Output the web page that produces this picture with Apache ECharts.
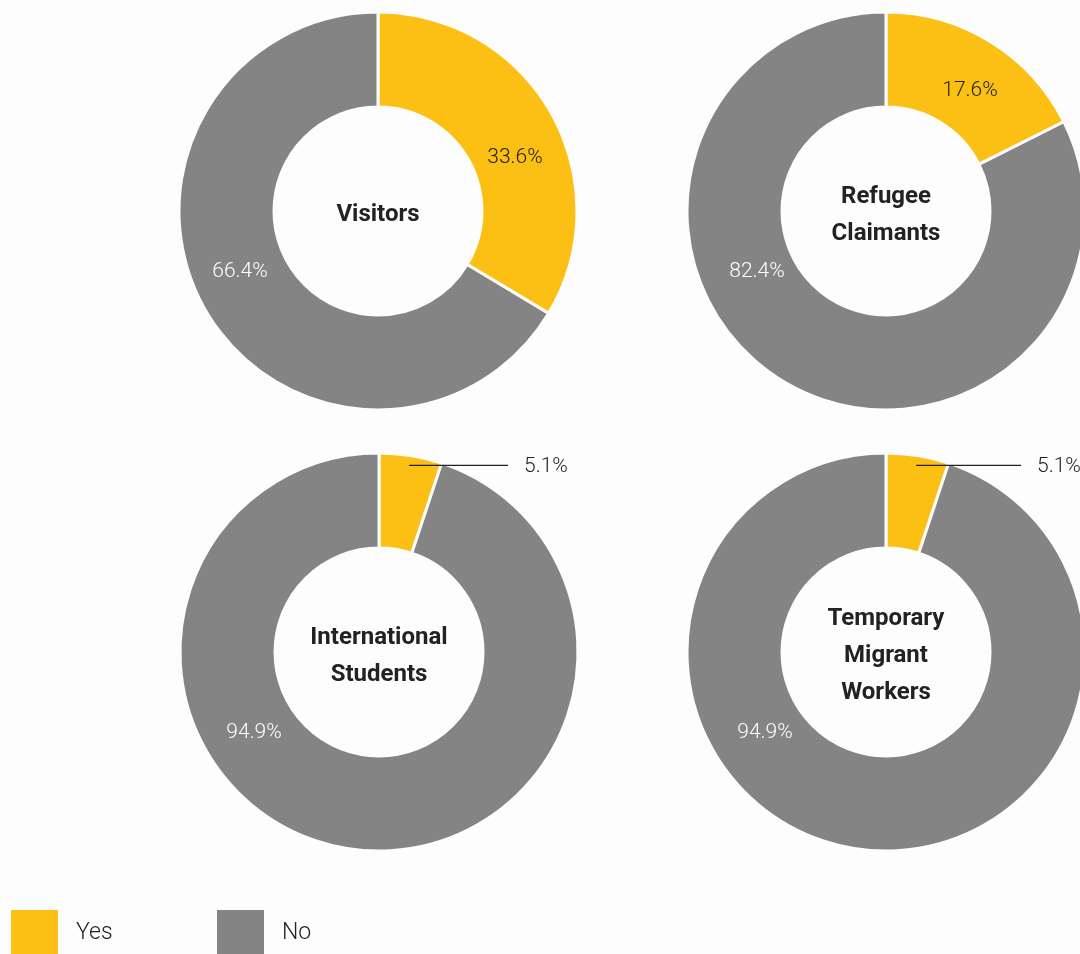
<!DOCTYPE html>
<html>
<head>
<meta charset="utf-8">
<script src="https://cdn.jsdelivr.net/npm/echarts@6/dist/echarts.min.js"></script>
<style>
  html, body { margin: 0; padding: 0; background: #fdfdfd; }
  #chart { width: 1080px; height: 954px; }
</style>
</head>
<body>
<div id="chart"></div>
<script>
// data
const groups = ['Visitors', 'Refugee\nClaimants', 'International\nStudents', 'Temporary\nMigrant\nWorkers'];
const answers = ['Yes', 'No'];
const yesValues = [33.6, 17.6, 5.1, 5.1];
const noValues = [66.4, 82.4, 94.9, 94.9];

// layout
const YELLOW = '#fbc013';
const GREY = '#848484';
const centers = [[378, 211], [886, 211], [379, 652], [886, 652]];
// label centre offsets from the pie centre ([yes, no]); null = outside label with leader line
const labelOffsets = [
  [[137, -53], [-138, 61]],
  [[84, -120], [-129, 61]],
  [null, [-125, 81]],
  [null, [-121, 81]]
];
const leaderEnd = [0, 0, 129, 135];

const chart = echarts.init(document.getElementById('chart'));

// where a small slice's leader line starts (inside the ring, at mid angle)
function leaderStart(i) {
  const [cx, cy] = centers[i];
  const ang = Math.PI * yesValues[i] / (yesValues[i] + noValues[i]);
  return [cx + 189 * Math.sin(ang), cy - 189 * Math.cos(ang)];
}

const series = groups.map((g, i) => {
  const [cx, cy] = centers[i];
  const smallYes = labelOffsets[i][0] === null;
  return {
    type: 'pie',
    center: [cx, cy],
    radius: [104, 199],
    startAngle: 90,
    clockwise: true,
    silent: true,
    itemStyle: { borderColor: '#fdfdfd', borderWidth: 3 },
    label: {
      fontFamily: 'Roboto',
      fontWeight: 300,
      fontSize: 21,
      formatter: p => p.value.toFixed(1) + '%'
    },
    labelLine: { show: false },
    labelLayout: function (p) {
      const off = labelOffsets[i][p.dataIndex];
      if (off) {
        return { x: cx + off[0], y: cy + off[1], align: 'center', verticalAlign: 'middle' };
      }
      const s = leaderStart(i);
      return { x: cx + leaderEnd[i] + 16, y: s[1] + 1, align: 'left', verticalAlign: 'middle' };
    },
    data: [
      {
        name: answers[0], value: yesValues[i],
        itemStyle: { color: YELLOW },
        label: { position: smallYes ? 'outside' : 'inside', color: '#222' }
      },
      {
        name: answers[1], value: noValues[i],
        itemStyle: { color: GREY },
        label: { position: 'inside', color: '#fff' }
      }
    ]
  };
});

// leader lines for the outside labels
const leaders = [];
groups.forEach((g, i) => {
  if (labelOffsets[i][0] !== null) return;
  const s = leaderStart(i);
  leaders.push({
    type: 'line',
    z: 100,
    shape: { x1: s[0], y1: s[1], x2: centers[i][0] + leaderEnd[i], y2: s[1] },
    style: { stroke: '#222', lineWidth: 1.2 }
  });
});

const titles = groups.map((g, i) => ({
  text: g,
  left: centers[i][0],
  top: centers[i][1] + 4,
  padding: 0,
  textAlign: 'center',
  textVerticalAlign: 'middle',
  textStyle: { fontFamily: 'Roboto', fontWeight: 'bold', fontSize: 24, color: '#222', lineHeight: 37 }
}));

const legendBase = {
  orient: 'horizontal',
  top: 908,
  padding: 0,
  itemWidth: 49,
  itemHeight: 49,
  icon: 'rect',
  selectedMode: false,
  textStyle: { fontFamily: 'Roboto', fontWeight: 300, fontSize: 23, color: '#222', padding: [6, 0, 0, 12] }
};

chart.setOption({
  backgroundColor: '#fdfdfd',
  animation: false,
  title: titles,
  legend: [
    Object.assign({}, legendBase, { left: 9, data: [answers[0]] }),
    Object.assign({}, legendBase, { left: 215, data: [answers[1]] })
  ],
  graphic: leaders,
  series: series
});
</script>
</body>
</html>
